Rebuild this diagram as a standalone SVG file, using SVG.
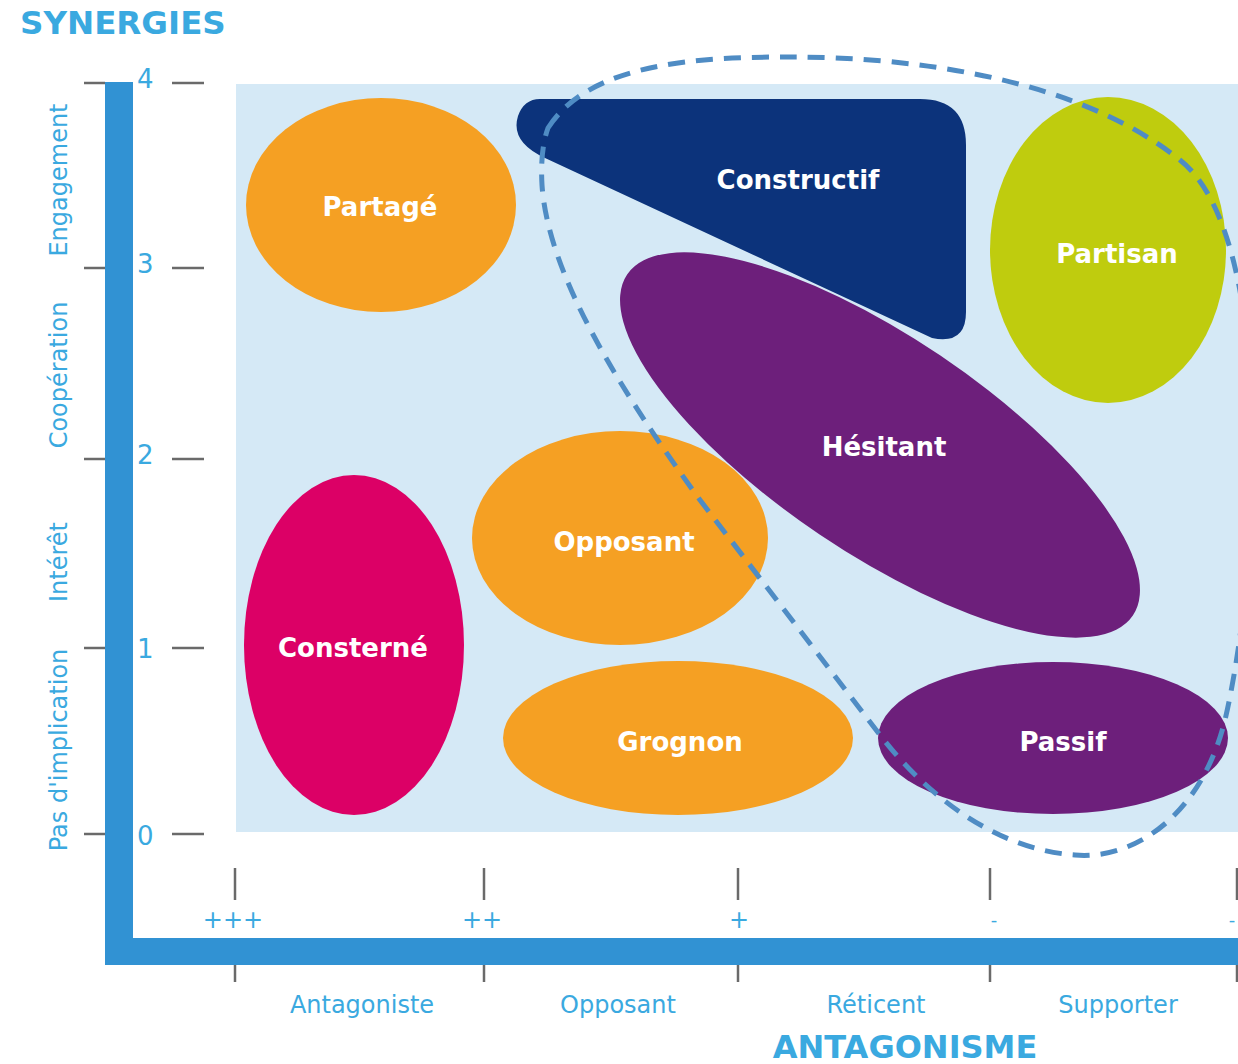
<svg xmlns="http://www.w3.org/2000/svg" width="1238" height="1064" viewBox="0 0 1238 1064">
<style>
.lbl{font-family:"DejaVu Sans",Verdana,sans-serif;font-weight:bold;font-size:26px;fill:#fff;text-anchor:middle}
.ax{font-family:"DejaVu Sans",Verdana,sans-serif;fill:#3aa9e0;text-anchor:middle}
.ttl{font-family:"DejaVu Sans",Verdana,sans-serif;font-weight:bold;fill:#3aa9e0}
.tick{stroke:#6a6a6a;stroke-width:2.5}
</style>
<rect width="1238" height="1064" fill="#fff"/>
<rect x="236" y="84" width="1002" height="748" fill="#d5e9f6"/>
<text class="ttl" x="20" y="34" font-size="32.5">SYNERGIES</text>
<g id="y-axis">
<rect x="105" y="82" width="28" height="883" fill="#3192d3"/>
<g class="tick">
<line x1="84" y1="83" x2="105" y2="83"/><line x1="172" y1="83" x2="204" y2="83"/>
<line x1="84" y1="268" x2="105" y2="268"/><line x1="172" y1="268" x2="204" y2="268"/>
<line x1="84" y1="459" x2="105" y2="459"/><line x1="172" y1="459" x2="204" y2="459"/>
<line x1="84" y1="648" x2="105" y2="648"/><line x1="172" y1="648" x2="204" y2="648"/>
<line x1="84" y1="834" x2="105" y2="834"/><line x1="172" y1="834" x2="204" y2="834"/>
</g>
<g class="ax" font-size="26">
<text x="137" y="88" text-anchor="start">4</text>
<text x="137" y="273" text-anchor="start">3</text>
<text x="137" y="464" text-anchor="start">2</text>
<text x="137" y="658" text-anchor="start">1</text>
<text x="137" y="845" text-anchor="start">0</text>
</g>
<g class="ax" font-size="24">
<text transform="translate(67,180) rotate(-90)">Engagement</text>
<text transform="translate(67,375) rotate(-90)">Coopération</text>
<text transform="translate(67,562) rotate(-90)">Intérêt</text>
<text transform="translate(67,750) rotate(-90)">Pas d'implication</text>
</g>
</g>
<g id="x-axis">
<rect x="105" y="938" width="1133" height="27" fill="#3192d3"/>
<g class="tick">
<line x1="235" y1="868" x2="235" y2="900"/><line x1="235" y1="965" x2="235" y2="982"/>
<line x1="484" y1="868" x2="484" y2="900"/><line x1="484" y1="965" x2="484" y2="982"/>
<line x1="738" y1="868" x2="738" y2="900"/><line x1="738" y1="965" x2="738" y2="982"/>
<line x1="990" y1="868" x2="990" y2="900"/><line x1="990" y1="965" x2="990" y2="982"/>
<line x1="1237" y1="868" x2="1237" y2="900"/><line x1="1237" y1="965" x2="1237" y2="982"/>
</g>
<g class="ax" font-size="24">
<text x="233" y="928">+++</text>
<text x="482" y="928">++</text>
<text x="739" y="928">+</text>
<text x="994" y="926" font-size="18">-</text>
<text x="1232" y="926" font-size="18">-</text>
<text x="362" y="1013">Antagoniste</text>
<text x="618" y="1013">Opposant</text>
<text x="876" y="1013">Réticent</text>
<text x="1118" y="1013">Supporter</text>
</g>
<text class="ttl" x="905" y="1058" font-size="32" text-anchor="middle">ANTAGONISME</text>
</g>
<g id="node-partage"><ellipse cx="381" cy="205" rx="135" ry="107" fill="#f5a023"/><text class="lbl" x="380" y="216">Partagé</text></g>
<g id="node-constructif"><path d="M540,99 L920,99 Q966,99 966,145 L966,312 Q966,345 932,338 L545,158 Q510,142 518,116 Q524,99 540,99 Z" fill="#0c337b"/><text class="lbl" x="798" y="189">Constructif</text></g>
<g id="node-partisan"><ellipse cx="1108" cy="250" rx="118" ry="153" fill="#bfcc0e"/><text class="lbl" x="1117" y="263">Partisan</text></g>
<g id="node-hesitant"><ellipse cx="0" cy="0" rx="305" ry="108" fill="#6d1f7b" transform="translate(880,445) rotate(34)"/><text class="lbl" x="884" y="456">Hésitant</text></g>
<g id="node-opposant"><ellipse cx="620" cy="538" rx="148" ry="107" fill="#f5a023"/><text class="lbl" x="624" y="551">Opposant</text></g>
<g id="node-consterne"><ellipse cx="354" cy="645" rx="110" ry="170" fill="#dc0066"/><text class="lbl" x="353" y="657">Consterné</text></g>
<g id="node-grognon"><ellipse cx="678" cy="738" rx="175" ry="77" fill="#f5a023"/><text class="lbl" x="680" y="751">Grognon</text></g>
<g id="node-passif"><ellipse cx="1053" cy="738" rx="175" ry="76" fill="#6d1f7b"/><text class="lbl" x="1063" y="751">Passif</text></g>
<g id="connectors">
<path d="M548,128 C590,62 700,57 790,57 C920,57 1080,80 1180,160 C1275,235 1262,560 1225,720 C1200,820 1130,860 1075,855 C1000,850 930,800 880,735 L700,500 C620,390 548,275 542,185 Q540,150 548,128 Z" fill="none" stroke="#4f8cc4" stroke-width="5" stroke-dasharray="17 11"/>
</g>
</svg>
